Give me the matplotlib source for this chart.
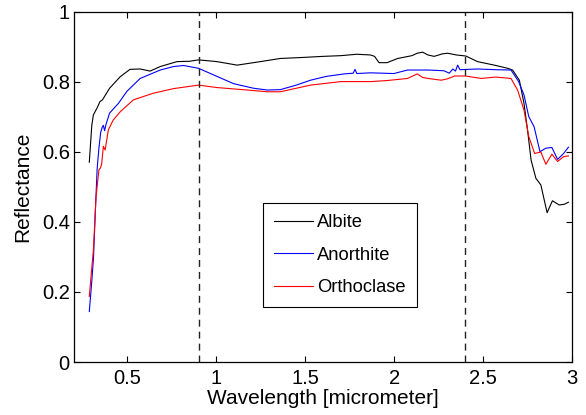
import matplotlib
matplotlib.use("Agg")
import matplotlib.pyplot as plt

plt.rcParams['font.family'] = ['Liberation Sans', 'DejaVu Sans']
plt.rcParams['lines.scale_dashes'] = False

# Reflectance spectra (wavelength in micrometer)
albite_x = [0.286, 0.30, 0.309, 0.33, 0.346, 0.36, 0.40, 0.46, 0.515, 0.572, 0.628, 0.685,
            0.779, 0.85, 0.90, 1.004, 1.117, 1.248, 1.36, 1.49, 1.60, 1.70, 1.79, 1.867,
            1.89, 1.915, 1.96, 2.02, 2.10, 2.13, 2.16, 2.19, 2.225, 2.27, 2.30, 2.35,
            2.403, 2.469, 2.563, 2.638, 2.666, 2.704, 2.73, 2.75, 2.77, 2.797, 2.825,
            2.86, 2.89, 2.928, 2.957, 2.98]
albite_y = [0.570, 0.675, 0.705, 0.725, 0.743, 0.748, 0.781, 0.814, 0.835, 0.836, 0.830, 0.843,
            0.857, 0.858, 0.862, 0.857, 0.847, 0.857, 0.866, 0.869, 0.872, 0.874, 0.878, 0.876,
            0.872, 0.854, 0.854, 0.866, 0.874, 0.881, 0.884, 0.876, 0.872, 0.879, 0.881, 0.876,
            0.873, 0.857, 0.847, 0.838, 0.833, 0.804, 0.738, 0.662, 0.576, 0.524, 0.505,
            0.426, 0.460, 0.448, 0.450, 0.456]

anorthite_x = [0.286, 0.30, 0.31, 0.32, 0.33, 0.34, 0.35, 0.36, 0.365, 0.372, 0.38, 0.40,
               0.45, 0.497, 0.572, 0.685, 0.76, 0.816, 0.90, 0.985, 1.098, 1.21, 1.286, 1.36,
               1.45, 1.53, 1.62, 1.72, 1.77, 1.78, 1.79, 1.867, 1.999, 2.075, 2.19, 2.28,
               2.31, 2.33, 2.345, 2.357, 2.37, 2.469, 2.57, 2.657, 2.70, 2.73, 2.757, 2.787,
               2.82, 2.853, 2.887, 2.919, 2.953, 2.98]
anorthite_y = [0.144, 0.23, 0.30, 0.43, 0.55, 0.61, 0.655, 0.672, 0.675, 0.66, 0.678, 0.71,
               0.738, 0.772, 0.809, 0.833, 0.843, 0.846, 0.838, 0.819, 0.794, 0.781, 0.776, 0.777,
               0.790, 0.804, 0.815, 0.822, 0.824, 0.835, 0.823, 0.825, 0.823, 0.833, 0.833, 0.831,
               0.824, 0.836, 0.830, 0.847, 0.834, 0.836, 0.834, 0.833, 0.80, 0.762, 0.70, 0.671,
               0.600, 0.610, 0.612, 0.578, 0.595, 0.613]

orthoclase_x = [0.286, 0.309, 0.324, 0.34, 0.35, 0.356, 0.365, 0.37, 0.375, 0.393, 0.42, 0.46,
                0.534, 0.647, 0.76, 0.90, 1.004, 1.173, 1.286, 1.36, 1.53, 1.70, 1.867, 1.96,
                2.075, 2.13, 2.16, 2.19, 2.265, 2.30, 2.34, 2.40, 2.49, 2.57, 2.657, 2.694,
                2.73, 2.757, 2.79, 2.825, 2.853, 2.887, 2.919, 2.953, 2.98]
orthoclase_y = [0.187, 0.32, 0.472, 0.548, 0.555, 0.567, 0.615, 0.61, 0.605, 0.662, 0.690, 0.714,
                0.748, 0.767, 0.780, 0.790, 0.783, 0.776, 0.771, 0.771, 0.790, 0.800, 0.800, 0.803,
                0.809, 0.822, 0.812, 0.809, 0.804, 0.808, 0.816, 0.816, 0.809, 0.813, 0.809, 0.776,
                0.719, 0.643, 0.595, 0.599, 0.564, 0.593, 0.572, 0.586, 0.588]

band_edges = [0.9, 2.4]

fig = plt.figure(figsize=(5.86, 4.15), dpi=100)
ax = fig.add_axes([74/586, 1 - 362/415, (572 - 74)/586, (362 - 11.5)/415])

lw = 0.8
ax.plot(albite_x, albite_y, color='black', lw=lw, label='Albite')
ax.plot(anorthite_x, anorthite_y, color='blue', lw=lw, label='Anorthite')
ax.plot(orthoclase_x, orthoclase_y, color='red', lw=lw, label='Orthoclase')
for xv in band_edges:
    ax.axvline(xv, color='#222222', lw=1.0, linestyle=(0, (5.0, 3.6)))

ax.set_xlim(0.2, 3)
ax.set_ylim(0, 1)
ax.set_xticks([0.5, 1, 1.5, 2, 2.5, 3])
ax.set_xticklabels(['0.5', '1', '1.5', '2', '2.5', '3'])
ax.set_yticks([0, 0.2, 0.4, 0.6, 0.8, 1])
ax.set_yticklabels(['0', '0.2', '0.4', '0.6', '0.8', '1'])
ax.tick_params(direction='in', length=4, width=0.8, top=True, right=True,
               labelsize=14.5)
ax.tick_params(axis='x', pad=5)
ax.tick_params(axis='y', pad=3)
for s in ax.spines.values():
    s.set_linewidth(0.9)

ax.set_xlabel('Wavelength [micrometer]', fontsize=15, labelpad=1)
ax.set_ylabel('Reflectance', fontsize=15, labelpad=7)

leg = ax.legend(loc='upper left', bbox_to_anchor=((263 - 74)/498, (362 - 203)/350.5),
                fontsize=13.2, frameon=True, fancybox=False, framealpha=1,
                edgecolor='black', handlelength=2.1, handletextpad=0.27,
                labelspacing=0.85, borderpad=0.6, borderaxespad=0)
leg.get_frame().set_linewidth(0.8)

fig.savefig('out.png', dpi=100)
